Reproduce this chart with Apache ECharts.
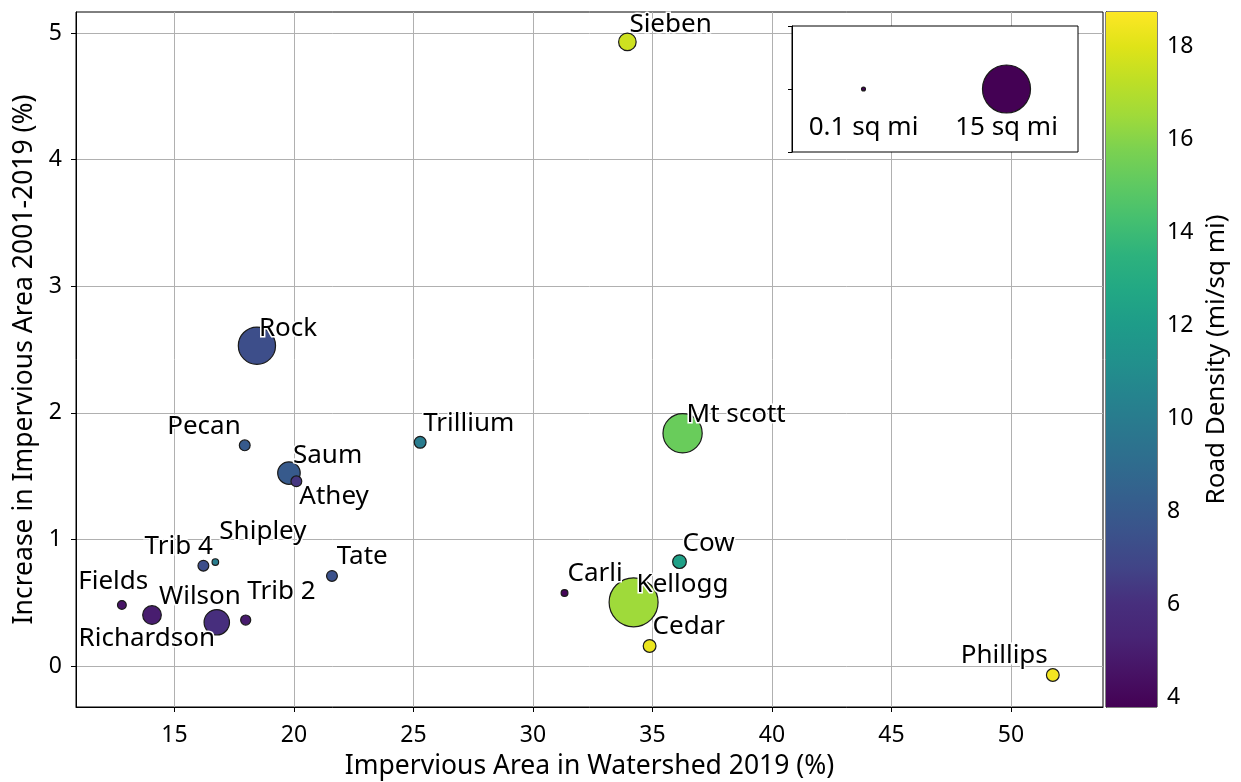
<!DOCTYPE html>
<html>
<head>
<meta charset="utf-8">
<script src="https://cdn.jsdelivr.net/npm/echarts@6/dist/echarts.min.js"></script>
<style>
  html, body { margin: 0; padding: 0; background: #fff; }
  #chart { width: 1241px; height: 782px; }
</style>
</head>
<body>
<div id="chart"></div>
<script>
// Watershed statistics
const watersheds = ['Sieben', 'Rock', 'Pecan', 'Saum', 'Athey', 'Trillium', 'Mt scott', 'Cow',
  'Carli', 'Kellogg', 'Cedar', 'Phillips', 'Tate', 'Trib 4', 'Shipley', 'Fields', 'Wilson',
  'Trib 2', 'Richardson'];
const imperviousPct = [33.95, 18.45, 17.94, 19.79, 20.10, 25.28, 36.26, 36.13,
  31.32, 34.21, 34.88, 51.75, 21.59, 16.21, 16.71, 12.80, 14.06,
  17.98, 16.77];
const imperviousIncrease = [4.93, 2.53, 1.743, 1.524, 1.459, 1.767, 1.838, 0.824,
  0.577, 0.503, 0.158, -0.071, 0.711, 0.792, 0.821, 0.482, 0.403,
  0.363, 0.345];
const areaSqMi = [2.0, 9.0, 0.76, 3.3, 0.76, 0.9, 10.0, 1.22,
  0.3, 15.6, 1.06, 1.06, 0.76, 0.76, 0.28, 0.5, 2.26,
  0.66, 4.2];
const roadDensity = [17.6, 7.3, 8.0, 8.0, 6.3, 10.0, 15.3, 12.3,
  4.0, 16.5, 18.3, 18.5, 7.5, 7.3, 10.1, 4.6, 5.0,
  4.9, 6.0];

// Axis ticks
const xTicks = [15, 20, 25, 30, 35, 40, 45, 50];
const yTicks = [0, 1, 2, 3, 4, 5];
const densityTicks = [4, 6, 8, 10, 12, 14, 16, 18];
const xRange = [10.88, 53.85];
const yRange = [-0.324, 5.166];
const densityRange = [3.8, 18.75];

// Bubble-size key
const sizeKeyAreas = [0.1, 15];
const sizeKeyLabels = ['0.1 sq mi', '15 sq mi'];

// Label placement around each bubble: [align, dx, dy]
const labelPlacement = {
  'Sieben': ['left', 2, -17], 'Rock': ['left', 2, -17], 'Pecan': ['right', -4, -19],
  'Saum': ['left', 4, -17.5], 'Athey': ['left', 3, 15], 'Trillium': ['left', 3, -19],
  'Mt scott': ['left', 4, -18.6], 'Cow': ['left', 3, -17.7], 'Carli': ['left', 3, -19],
  'Kellogg': ['left', 3, -17.3], 'Cedar': ['left', 3, -19], 'Phillips': ['right', -5, -19.3],
  'Tate': ['left', 4.7, -19], 'Trib 4': ['right', 9.4, -19], 'Shipley': ['left', 4, -30],
  'Fields': ['left', -43.7, -23.3], 'Wilson': ['left', 7, -18], 'Trib 2': ['left', 1.6, -28],
  'Richardson': ['right', -1.7, 16.7]
};

const viridis = ['#440154', '#471365', '#482475', '#472f7d', '#414487', '#3b528b', '#355f8d',
  '#2f6c8e', '#2a788e', '#25848e', '#21918c', '#1e9c89', '#22a884', '#2db27d', '#44bf70',
  '#5ec962', '#7ad151', '#9fda3a', '#bddf26', '#dfe318', '#fde725'];

const FONT = 'Noto Sans';
const sizeScale = 12.4; // px of diameter per sqrt(sq mi)
const bubbleSize = (v) => sizeScale * Math.sqrt(v[2]);

const points = watersheds.map((name, i) => {
  const p = labelPlacement[name];
  return {
    name: name,
    value: [imperviousPct[i], imperviousIncrease[i], areaSqMi[i], roadDensity[i]],
    label: { align: p[0], offset: [p[1], p[2]] }
  };
});

const chart = echarts.init(document.getElementById('chart'), null, { renderer: 'canvas' });

const tickLabelStyle = { color: '#000', fontFamily: FONT, fontSize: 23 };
const titleStyle = { color: '#000', fontFamily: FONT, fontSize: 26.5 };

chart.setOption({
  backgroundColor: '#fff',
  animation: false,
  grid: [
    { left: 76, top: 12, width: 1027, height: 695, show: true, borderColor: '#000', borderWidth: 1,
      containLabel: false, outerBoundsMode: 'none' },
    { left: 1106, top: 12, width: 51, height: 695, show: true, borderColor: '#000', borderWidth: 1,
      containLabel: false, outerBoundsMode: 'none' },
    { left: 792, top: 26, width: 286, height: 126, show: true, backgroundColor: '#fff', borderColor: '#000',
      borderWidth: 1, z: 3, containLabel: false, outerBoundsMode: 'none' }
  ],
  visualMap: [{
    type: 'continuous', show: false, seriesIndex: 0, dimension: 3,
    min: densityRange[0], max: densityRange[1],
    inRange: { color: viridis }
  }],
  xAxis: [
    {
      gridIndex: 0, type: 'value', min: xRange[0], max: xRange[1],
      name: 'Impervious Area in Watershed 2019 (%)', nameLocation: 'middle', nameGap: 46,
      nameTextStyle: titleStyle,
      axisLine: { show: true, onZero: false, lineStyle: { color: '#000', width: 1 } },
      axisTick: { show: true, length: 5, lineStyle: { color: '#000' }, customValues: xTicks },
      axisLabel: Object.assign({ margin: 17, customValues: xTicks }, tickLabelStyle),
      splitLine: { show: true, lineStyle: { color: '#b0b0b0', width: 1 } }
    },
    { gridIndex: 1, type: 'value', min: 0, max: 1, show: false },
    { gridIndex: 2, type: 'value', min: 0, max: 1, show: false }
  ],
  yAxis: [
    {
      gridIndex: 0, type: 'value', min: yRange[0], max: yRange[1],
      name: 'Increase in Impervious Area 2001-2019 (%)', nameLocation: 'middle', nameGap: 38,
      nameRotate: 90, nameTextStyle: titleStyle,
      axisLine: { show: true, onZero: false, lineStyle: { color: '#000', width: 1 } },
      axisTick: { show: true, length: 5, lineStyle: { color: '#000' }, customValues: yTicks },
      axisLabel: Object.assign({ margin: 14, customValues: yTicks }, tickLabelStyle),
      splitLine: { show: true, lineStyle: { color: '#b0b0b0', width: 1 } }
    },
    {
      gridIndex: 1, type: 'value', position: 'right', min: densityRange[0], max: densityRange[1],
      name: 'Road Density (mi/sq mi)', nameLocation: 'middle', nameGap: 47, nameRotate: 90,
      nameTextStyle: Object.assign({}, titleStyle, { fontSize: 26 }),
      axisLine: { show: true, lineStyle: { color: '#000', width: 1 } },
      axisTick: { show: true, length: 5, lineStyle: { color: '#000' }, customValues: densityTicks },
      axisLabel: Object.assign({ margin: 10, customValues: densityTicks }, tickLabelStyle),
      splitLine: { show: false }
    },
    {
      gridIndex: 2, type: 'value', min: 0, max: 2, interval: 1, z: 4,
      axisLine: { show: true, lineStyle: { color: '#000', width: 1 } },
      axisTick: { show: true, length: 4, lineStyle: { color: '#000' } },
      axisLabel: { show: false },
      splitLine: { show: false }
    }
  ],
  series: [
    {
      type: 'scatter', xAxisIndex: 0, yAxisIndex: 0, z: 2,
      data: points,
      symbolSize: bubbleSize,
      itemStyle: { borderColor: '#1a1a1a', borderWidth: 1.2, opacity: 1 },
      label: {
        show: true, position: 'inside', verticalAlign: 'middle',
        formatter: (p) => p.name,
        color: '#000', fontFamily: FONT, fontSize: 26,
        textBorderColor: '#fff', textBorderWidth: 3
      },
      emphasis: { disabled: true }
    },
    {
      // colour bar
      type: 'custom', xAxisIndex: 1, yAxisIndex: 1, silent: true,
      data: [[densityRange[0], densityRange[1]]],
      renderItem: (params, api) => {
        const top = api.coord([0, api.value(1)]);
        const bottom = api.coord([1, api.value(0)]);
        const stops = viridis.map((c, i) => ({ offset: i / (viridis.length - 1), color: c }));
        return {
          type: 'rect',
          shape: { x: top[0], y: top[1], width: bottom[0] - top[0], height: bottom[1] - top[1] },
          style: { fill: new echarts.graphic.LinearGradient(0, 1, 0, 0, stops) }
        };
      }
    },
    {
      // bubble-size key
      type: 'scatter', xAxisIndex: 2, yAxisIndex: 2, z: 5,
      data: sizeKeyAreas.map((a, i) => ({ name: sizeKeyLabels[i], value: [0.25 + 0.5 * i, 1, a] })),
      symbolSize: bubbleSize,
      itemStyle: { color: '#440154', borderColor: '#1a1a1a', borderWidth: 1.2, opacity: 1 },
      label: {
        show: true, position: 'inside', align: 'center', verticalAlign: 'middle', offset: [0, 39],
        formatter: (p) => p.name, color: '#000', fontFamily: FONT, fontSize: 26
      },
      emphasis: { disabled: true }
    }
  ]
});
</script>
</body>
</html>
